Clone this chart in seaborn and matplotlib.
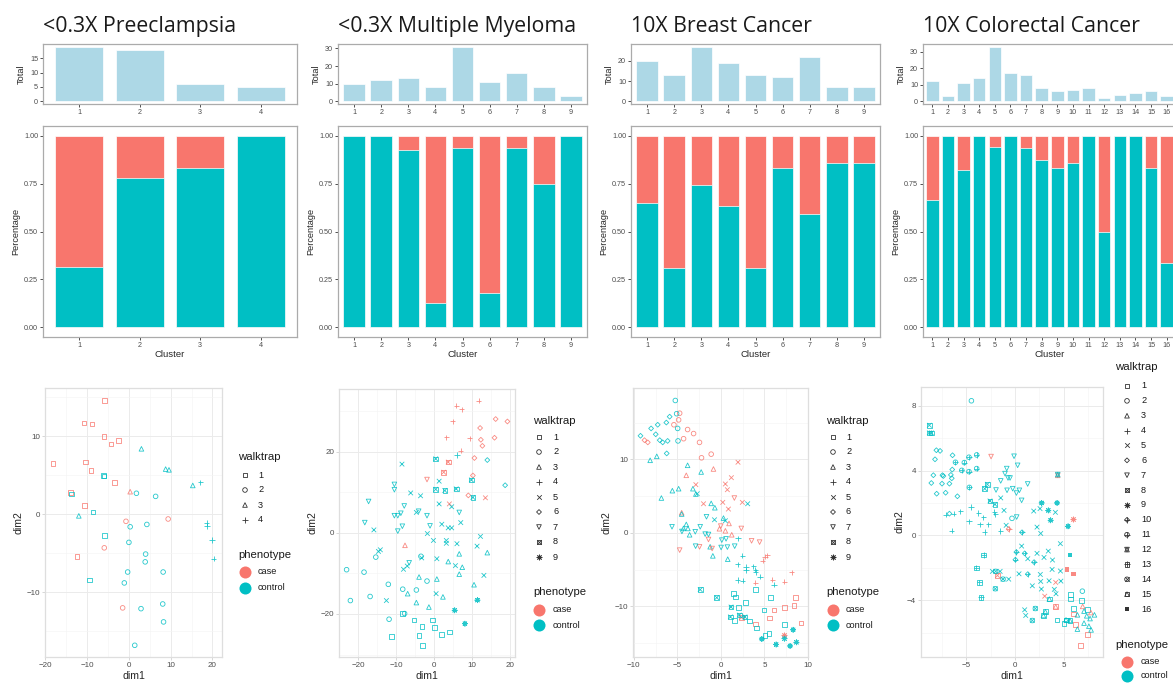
import matplotlib
matplotlib.use("Agg")
import matplotlib.pyplot as plt
import numpy as np
import pandas as pd
import seaborn as sns

sns.set_theme(style="white")
plt.rcParams["font.family"] = ["Liberation Sans", "DejaVu Sans"]

# ---------------- data ----------------
titles = ["<0.3X Preeclampsia", "<0.3X Multiple Myeloma", "10X Breast Cancer", "10X Colorectal Cancer"]

# cells per cluster (walktrap) split by phenotype
pe_case = [13, 4, 1, 0]
pe_control = [6, 14, 5, 5]
mm_case = [0, 0, 1, 7, 2, 9, 1, 2, 0]
mm_control = [10, 12, 12, 1, 29, 2, 15, 6, 3]
bc_case = [7, 9, 7, 7, 9, 2, 9, 1, 1]
bc_control = [13, 4, 20, 12, 4, 10, 13, 6, 6]
crc_case = [4, 0, 2, 0, 2, 0, 1, 1, 1, 1, 0, 1, 0, 0, 1, 2]
crc_control = [8, 3, 9, 14, 31, 17, 15, 7, 5, 6, 8, 1, 4, 5, 5, 1]

total_ticks = [[0, 5, 10, 15], [0, 10, 20, 30], [0, 10, 20], [0, 10, 20, 30]]

# embedding coordinates, ordered by cluster, case points first then control
pe_dim1 = [-5.9, -10.8, -8.8, -6.0, -2.5, -4.3, -18.2, -10.4, -9.1, -3.5, -14.0, -10.7, -12.4,
           -6.0, -6.1, -13.8, -8.6, -5.9, -9.5,
           -0.7, 9.4, -5.9, -1.5,
           1.8, 6.4, 0.3, 4.3, 0.0, 4.0, 3.9, -0.3, 8.2, -1.1, 2.9, 8.1, 8.3, 1.4,
           0.3,
           3.0, 8.8, 9.6, 15.3, -12.0,
           17.1, 18.6, 18.7, 19.9, 20.3]
pe_dim2 = [14.6, 11.7, 11.6, 10.0, 9.5, 9.0, 6.5, 6.7, 5.6, 4.1, 2.8, 1.1, -5.4,
           4.9, 5.0, 2.6, 0.3, -2.7, -8.4,
           -0.9, -0.6, -4.3, -12.0,
           2.7, 2.3, -1.6, -1.3, -3.6, -5.1, -6.1, -7.4, -7.4, -8.8, -12.1, -11.5, -13.8, -16.8,
           2.9,
           8.4, 5.8, 5.7, 3.7, -0.2,
           4.1, -1.1, -1.5, -3.3, -5.7]

mm_dim1 = [-8.4, -5.3, -3.2, -0.4, 0.1, -11.3, -4.0, 2.0, 4.0, -3.1,
           -23.1, -18.5, -22.1, -16.9, -15.4, -12.1, -11.9, -8.3, -7.8, -4.7, -3.5, -1.9,
           -7.7,
           -4.0, -7.0, -4.7, -1.4, 0.7, 2.3, 3.7, 6.6, 7.4, 6.6, 10.5, 14.0,
           5.8, 7.2, 11.7, 4.9, 3.2, 9.4, 7.0,
           6.0,
           4.0, 13.5,
           -8.5, 1.3, -6.2, -3.6, 1.3, 4.6, 7.0, -4.7, 2.0, 3.7, 4.6, -1.8, -0.2, 3.2, 3.2, 6.0, 12.2,
           11.3, -15.9, -14.2, -14.7, -3.3, 0.7, -7.1, -8.1, 5.6, 13.1, 0.5, -12.6,
           16.2, 19.3, 12.1, 12.3, 12.7, 15.9, 10.6, 10.2, 9.0,
           14.0, 18.7,
           -1.9,
           -10.5, -10.5, -17.3, -7.9, -4.1, -1.9, 6.6, -18.3, -10.5, -9.6, -8.8, -8.4, -9.6, -1.1, -6.6,
           3.7, 2.5,
           0.4, 0.4, 2.8, 5.8, 9.8, 10.2,
           11.4, 5.4, 8.1]
mm_dim2 = [-19.9, -21.5, -23.1, -21.5, -23.3, -25.6, -25.3, -25.1, -24.4, -27.8,
           -9.1, -9.7, -16.7, -15.7, -6.0, -12.7, -21.3, -13.9, -19.9, -14.1, -5.8, -11.9,
           -3.1,
           -10.9, -15.0, -17.2, -18.3, -11.4, -15.8, -7.1, -5.2, -8.5, -10.2, -12.8, -4.9,
           31.3, 30.4, 32.5, 27.4, 23.5, 23.3, 20.2,
           19.1,
           7.1, 8.6,
           16.9, 12.7, 9.8, 9.1, 7.1, 6.4, 2.5, 5.0, 2.1, 1.2, 1.2, -0.2, -1.9, -1.9, -2.6, -2.7, -0.9,
           -3.3, 0.7, -4.2, -4.6, -6.2, -6.4, -8.2, -9.0, -8.1, -10.5, -15.0, -16.7,
           28.0, 27.4, 25.8, 22.9, 21.4, 23.4, 18.4, 14.1, 9.2,
           17.9, 11.7,
           13.1,
           11.9, 10.6, 7.7, 6.6, 5.3, 4.2, 5.0, 2.5, 4.2, 4.2, 4.8, 1.6, 0.4, 1.7, -7.4,
           17.4, 14.9,
           18.2, 10.7, 10.4, 10.8, 13.0, 8.7,
           -16.6, -19.1, -22.4]

bc_dim1 = [6.1, 7.3, 8.55, 8.4, 9.2, 4.0, 5.6,
           1.43, 1.66, 3.94, 5.71, 2.8, 2.0, 4.93, 1.54, 3.3, 4.06, 5.54, 5.05, 7.33,
           -4.74, -4.86, -5.4, -3.83, -3.14, -4.29, -2.46, -1.12, -2.23,
           -5.24, -5.09, -4.97, -4.93,
           -0.86, -3.98, -4.51, 0.93, 0.51, 1.24, -0.17,
           -8.13, -7.37, -3.83, -2.27, -6.84, -5.58, -4.86, -3.22, -2.88, -4.51, -3.98, -3.79, -3.6,
           -1.12, -0.7, 0.29, -1.24, -0.93, 0.78, -4.3,
           4.78, 5.31, 5.05, 5.9, 7.27, 8.13, 3.94,
           1.96, 2.46, 1.92, 2.88, 2.88, 3.7, 3.98, 4.48, 1.92, 2.5, 6.1, 3.94,
           1.96, 1.2, 0.51, 0.74, -2.88, -2.0, 0.21, 0.86, 2.46,
           3.07, -0.74, 0.51, -2.72,
           -8.78, -8.4,
           -9.24, -8.02, -7.49, -7.26, -7.03, -6.69, -6.12, -6.27, -5.89, -6.23,
           -4.74, -2.46, -1.43, -1.01, -0.02, 1.54, 2.34, 3.52, 4.44,
           -5.62, -4.48, -2.95, -2.38, -1.66, -1.81, -1.43, -2.91, 0.02, 0.74, 0.59, 0.1, 1.58,
           2.34,
           -2.38, -0.48, 1.16, 1.09, 2.11, 2.76,
           7.27,
           4.7, 6.34, 7.3, 7.94, 8.29, 8.67]
bc_dim2 = [-10.5, -10.2, -8.8, -9.9, -12.3, -12.4, -11.6,
           -8.27, -8.73, -7.73, -8.82, -9.45, -10.2, -10.5, -11.9, -12.0, -12.95, -13.7, -14.0, -12.5,
           16.27, 15.36, 14.7, 14.05, 13.5, 12.8, 12.3, 10.7, 10.2,
           18.0, 16.2, 14.2, 12.5,
           8.68, 7.82, 2.73, 1.27, 0.27, -0.27, 0.55,
           9.86, 10.4, 9.18, 8.27, 4.73, 5.73, 6.0, 6.0, 5.27, 2.55, 1.14, 0.59, -0.27,
           4.0, 3.41, 2.0, -1.9, -3.14, -3.59, 0.6,
           -3.82, -3.05, -3.27, -6.36, -6.64, -5.36, -6.77,
           -0.73, -3.14, -4.27, -4.64, -5.09, -4.55, -5.32, -5.95, -6.41, -6.5, -7.05, -5.0,
           9.6, 7.5, 6.64, 5.86, 6.55, 3.95, 4.14, 3.23, 4.14,
           3.95, 1.77, 1.64, 5.32,
           12.6, 12.3,
           13.2, 14.2, 13.4, 14.7, 12.6, 12.3, 12.5, 15.0, 15.8, 10.8,
           -2.36, -1.91, -0.91, -2.14, 0.91, 4.73, 0.59, -1.09, -1.27,
           0.82, 0.18, 0.14, 0.82, 2.18, -0.18, -0.23, -1.82, -2.0, -1.95, -0.82, -1.0, -1.82,
           -11.5,
           -7.73, -8.82, -10.1, -11.45, -11.2, -11.45,
           -13.9,
           -14.45, -15.2, -14.4, -15.4, -13.2, -14.9]

crc_dim1 = [6.0, 6.25, 7.47, 6.72,
            5.7, 5.7, 6.0, 6.86, 4.33, 5.29, 5.05, 7.45,
            -4.47, 6.93, -0.3,
            6.96, 7.8,
            6.42, 6.42, 7.1, 7.38, 7.1, 7.6, 7.83, 8.17, 7.72,
            -7.1, -6.28, -5.6, -4.5, -4.71, -6.49, -3.78, -3.24, -3.58, -2.72, -3.1, -2.1, -1.49, -2.0,
            4.19, 3.06,
            -1.46, -1.12, -0.9, 0.69, 1.32, 2.27, 2.99, 3.43, 4.67, 0.42, 1.79, 2.61, 2.65, 2.72, 3.51, 3.82,
            3.86, 4.68, 4.72, 4.05, 4.22, 1.0, 1.11, 1.93, 2.58, 2.27, 2.65, 4.16, -2.31, -1.52, -0.64,
            -8.07, -7.69, -8.21, -6.41, -8.38, -7.45, -7.35, -6.44, -6.58, -8.59, -7.49, -6.73, -8.04,
            -7.12, -5.91, -6.73, -6.49,
            -2.45,
            -0.09, -0.84, 0.28, -1.02, -0.5, -0.71, -1.46, -1.94, -0.81, -0.23, 0.15, 0.46, 0.69, 1.31, 0.18,
            -1.8,
            -8.79, -8.79, -8.59, -2.83, -3.1, -2.56, -2.05,
            6.0,
            2.75, 4.33, 3.43, 3.67, 5.46,
            -0.64,
            0.15, 1.0, 0.05, 1.97, 1.32, 0.73,
            -6.11, -5.2, -4.72, -3.93, -5.46, -4.72, -3.93, -4.68,
            4.4,
            4.4,
            -3.2, -3.96, -3.65, -3.48,
            -1.98, -2.01, -1.22, 1.79, 2.1,
            4.19,
            3.13, 2.93, 3.54, 5.66, 5.25,
            5.36, 6.04,
            5.63]
crc_dim2 = [-4.84, -5.48, -6.11, -6.79,
            -3.66, -3.93, -4.5, -4.01, -5.21, -5.23, -5.43, -4.57,
            8.3, -3.44, 1.05,
            -4.38, -4.76,
            -4.9, -5.78, -5.41, -4.96, -4.67, -5.6, -5.83, -4.9, -5.13,
            1.28, 1.34, 1.48, 1.75, 0.86, 0.29, 1.38, 1.11, 0.68, 0.68, 0.21, 1.44, 0.27, 1.3,
            -2.9, -3.75,
            2.31, 1.54, 0.62, -0.66, -1.44, -1.11, -1.36, -0.97, -0.51, -2.37, -3.11, -2.41, -2.84, -3.31,
            -2.8, -2.1, -1.52, -2.2, -2.82, -3.33, -3.6, -4.59, -4.94, 1.5, 1.65, 0.51, 0.12, 1.42, -2.22,
            -2.22, -2.7,
            5.25, 5.21, 4.69, 4.94, 3.71, 3.71, 3.66, 4.06, 3.73, 3.23, 3.19, 3.19, 2.57,
            2.63, 2.41, 1.34, 3.52,
            4.86,
            4.88, 4.12, 4.32, 3.81, 3.54, 3.54, 3.36, 2.8, 2.78, 2.88, 2.61, 2.78, 2.16, 3.17, 1.13,
            -2.47,
            6.79, 6.32, 6.32, 3.15, 2.88, 2.12, 1.91,
            0.99,
            2.0, 2.0, 1.54, 0.93, 0.56,
            0.39,
            -1.03, -1.11, -1.5, -1.65, -2.39, 0.19,
            4.51, 4.49, 4.82, 4.96, 4.01, 3.93, 4.12, 2.96,
            3.7,
            3.75,
            -1.21, -2.0, -2.9, -3.83,
            -2.22, -3.29, -2.7, -5.25, -4.51,
            -4.4,
            -4.71, -4.94, -3.93, -5.25, -5.21,
            -2.12, -2.39,
            -1.19]

# ---------------- style ----------------
CASE = "#F8766D"
CTRL = "#00BFC4"
TOTAL = "#ADD8E6"
PHENO_COL = {"case": CASE, "control": CTRL}

# walktrap shapes (ggplot shapes 0..15), built from matplotlib markers: (marker, filled)
SHAPES = {
    1: [("s", False)], 2: [("o", False)], 3: [("^", False)], 4: [("+", None)],
    5: [("x", None)], 6: [("D", False)], 7: [("v", False)], 8: [("s", False), ("x", None)],
    9: [((8, 2, 0), None)], 10: [("D", False), ("+", None)], 11: [("o", False), ("+", None)],
    12: [("^", False), ("v", False)], 13: [("s", False), ("+", None)],
    14: [("o", False), ("x", None)], 15: [("s", False), ("^", False)], 16: [("s", True)],
}
SIZE_SCALE = {"s": 1.0, "o": 1.0, "^": 1.0, "v": 1.0, "D": 0.55, "+": 1.3, "x": 1.0}

W, H = 1173, 686
fig = plt.figure(figsize=(W / 100, H / 100), dpi=100)


def rect(l, t, r, b):
    return [l / W, 1 - b / H, (r - l) / W, (b - t) / H]


def draw_shape(ax, x, y, k, color, s, lw, alpha=1.0, clip=True):
    for m, filled in SHAPES[k]:
        ss = s * SIZE_SCALE.get(m, 1.0) if isinstance(m, str) else s * 1.2
        if filled is None:
            ax.scatter(x, y, marker=m, s=ss, c=[color] * len(x), linewidths=lw, alpha=alpha, clip_on=clip)
        elif filled:
            ax.scatter(x, y, marker=m, s=ss, c=[color] * len(x), linewidths=0, alpha=alpha, clip_on=clip)
        else:
            ax.scatter(x, y, marker=m, s=ss, facecolors="none", edgecolors=[color] * len(x),
                       linewidths=lw, alpha=alpha, clip_on=clip)


def style_bar_axes(ax):
    ax.grid(False)
    for sp in ax.spines.values():
        sp.set_visible(True)
        sp.set_color("#ABABAB")
        sp.set_linewidth(0.9)
    ax.tick_params(axis="both", length=2, width=0.6, color="#333333", labelsize=5.2,
                   labelcolor="#4D4D4D", pad=1.5, bottom=True, left=True)


def draw_bars(ax_top, ax_main, case, control, yticks):
    n = len(case)
    clusters = [str(i + 1) for i in range(n)]
    total = [a + b for a, b in zip(case, control)]
    df = pd.DataFrame({
        "Cluster": clusters,
        "Total": total,
        "control": [c / t for c, t in zip(control, total)],
        "all": [(a + c) / t for a, c, t in zip(case, control, total)],
    })
    kw = dict(saturation=1, width=0.8, edgecolor="white", linewidth=0.5, errorbar=None)
    sns.barplot(data=df, x="Cluster", y="Total", color=TOTAL, ax=ax_top, **kw)
    sns.barplot(data=df, x="Cluster", y="all", color=CASE, ax=ax_main, **kw)
    sns.barplot(data=df, x="Cluster", y="control", color=CTRL, ax=ax_main, **kw)
    for ax in (ax_top, ax_main):
        style_bar_axes(ax)
        ax.set_xlim(-0.6, n - 0.4)
    mx = max(total)
    ax_top.set_ylim(-0.05 * mx, 1.05 * mx)
    ax_top.set_yticks(yticks)
    ax_top.set_xlabel("")
    ax_top.set_ylabel("Total", fontsize=6.6, labelpad=3)
    ax_main.set_ylim(-0.05, 1.05)
    ax_main.set_yticks([0, 0.25, 0.5, 0.75, 1.0])
    ax_main.set_yticklabels(["0.00", "0.25", "0.50", "0.75", "1.00"])
    ax_main.set_xlabel("Cluster", fontsize=6.8, labelpad=1)
    ax_main.set_ylabel("Percentage", fontsize=6.6, labelpad=3)


def draw_scatter(ax, dim1, dim2, case, control, xlim, ylim, xt, xm, yt, ym):
    walk, pheno = [], []
    for k, (a, c) in enumerate(zip(case, control), start=1):
        walk += [k] * (a + c)
        pheno += ["case"] * a + ["control"] * c
    df = pd.DataFrame({"dim1": dim1, "dim2": dim2, "walktrap": walk, "phenotype": pheno})
    for (k, ph), g in df.groupby(["walktrap", "phenotype"], sort=True):
        draw_shape(ax, g["dim1"].values, g["dim2"].values, k, PHENO_COL[ph], 11, 0.6, alpha=0.85)
    ax.set_xlim(*xlim)
    ax.set_ylim(*ylim)
    ax.set_xticks(xt)
    ax.set_xticks(xm, minor=True)
    ax.set_yticks(yt)
    ax.set_yticks(ym, minor=True)
    ax.grid(True, which="major", color="#EBEBEB", linewidth=0.7)
    ax.grid(True, which="minor", color="#F4F4F4", linewidth=0.45)
    ax.set_axisbelow(True)
    for sp in ax.spines.values():
        sp.set_visible(True)
        sp.set_color("#DEDEDE")
        sp.set_linewidth(0.9)
    ax.tick_params(axis="both", which="major", length=2, width=0.5, color="#C8C8C8",
                   labelsize=5.8, labelcolor="#4D4D4D", pad=1.5, bottom=True, left=True)
    ax.tick_params(axis="both", which="minor", length=0)
    ax.set_xlabel("dim1", fontsize=7.6, labelpad=1.5)
    ax.set_ylabel("dim2", fontsize=7.6, labelpad=2)


top_rects = [(43, 44, 297, 104), (338, 44, 587, 104), (631, 44, 880, 104), (923, 44, 1176, 104)]
main_rects = [(43, 126, 297, 337), (338, 126, 587, 337), (631, 126, 880, 337), (923, 126, 1176, 337)]
sc_rects = [(45, 388, 222, 657), (339, 389, 515, 657), (633, 388, 808, 657), (921, 387, 1103, 657)]

cases = [pe_case, mm_case, bc_case, crc_case]
controls = [pe_control, mm_control, bc_control, crc_control]
dims = [(pe_dim1, pe_dim2), (mm_dim1, mm_dim2), (bc_dim1, bc_dim2), (crc_dim1, crc_dim2)]
scatter_cfg = [
    dict(xlim=(-20.1, 22.3), ylim=(-18.3, 16.2), xt=[-20, -10, 0, 10, 20], xm=[-15, -5, 5, 15],
         yt=[-10, 0, 10], ym=[-15, -5, 5, 15]),
    dict(xlim=(-25.1, 21.3), ylim=(-30.6, 35.4), xt=[-20, -10, 0, 10, 20], xm=[-15, -5, 5, 15],
         yt=[-20, 0, 20], ym=[-30, -10, 10, 30]),
    dict(xlim=(-10.1, 10.0), ylim=(-16.9, 19.7), xt=[-10, -5, 0, 5, 10], xm=[-7.5, -2.5, 2.5, 7.5],
         yt=[-10, 0, 10], ym=[-15, -5, 5, 15]),
    dict(xlim=(-9.65, 9.05), ylim=(-7.5, 9.15), xt=[-5, 0, 5], xm=[-7.5, -2.5, 2.5, 7.5],
         yt=[-4, 0, 4, 8], ym=[-6, -2, 2, 6]),
]

for i in range(4):
    ax_t = fig.add_axes(rect(*top_rects[i]))
    ax_m = fig.add_axes(rect(*main_rects[i]))
    draw_bars(ax_t, ax_m, cases[i], controls[i], total_ticks[i])
    ax_s = fig.add_axes(rect(*sc_rects[i]))
    draw_scatter(ax_s, dims[i][0], dims[i][1], cases[i], controls[i], **scatter_cfg[i])
    fig.text(top_rects[i][0] / W, 1 - 32 / H, titles[i], fontsize=15.3, family=["Open Sans", "DejaVu Sans"],
             color="#1A1A1A", ha="left", va="baseline")

# ---------------- legends ----------------
lax = fig.add_axes([0, 0, 1, 1])
lax.set_xlim(0, W)
lax.set_ylim(H, 0)
lax.axis("off")
lax.patch.set_alpha(0)

legend_cfg = [
    dict(tx=238, ty=457, mx=245, lx=258, y0=475, dy=15, n=4, py=555, cy=572, cy2=588),
    dict(tx=533, ty=421, mx=539, lx=553, y0=437, dy=15, n=9, py=592, cy=610, cy2=625),
    dict(tx=826, ty=421, mx=833, lx=846, y0=437, dy=15, n=9, py=592, cy=610, cy2=625),
    dict(tx=1115, ty=367, mx=1127, lx=1141, y0=386, dy=14.87, n=16, py=645, cy=662, cy2=676),
]
for cfg in legend_cfg:
    lax.text(cfg["tx"], cfg["ty"], "walktrap", fontsize=8.2, color="#1A1A1A", ha="left", va="center")
    for j in range(cfg["n"]):
        yy = cfg["y0"] + j * cfg["dy"]
        draw_shape(lax, [cfg["mx"]], [yy], j + 1, "#333333", 11, 0.6, clip=False)
        lax.text(cfg["lx"], yy, str(j + 1), fontsize=6.6, color="#1A1A1A", ha="left", va="center")
    lax.text(cfg["tx"], cfg["py"], "phenotype", fontsize=8.2, color="#1A1A1A", ha="left", va="center")
    for yy, lab in ((cfg["cy"], "case"), (cfg["cy2"], "control")):
        lax.scatter([cfg["mx"]], [yy], s=75, c=[PHENO_COL[lab]], linewidths=0, clip_on=False)
        lax.text(cfg["lx"], yy, lab, fontsize=6.6, color="#1A1A1A", ha="left", va="center")

fig.savefig("out.png", dpi=100)
